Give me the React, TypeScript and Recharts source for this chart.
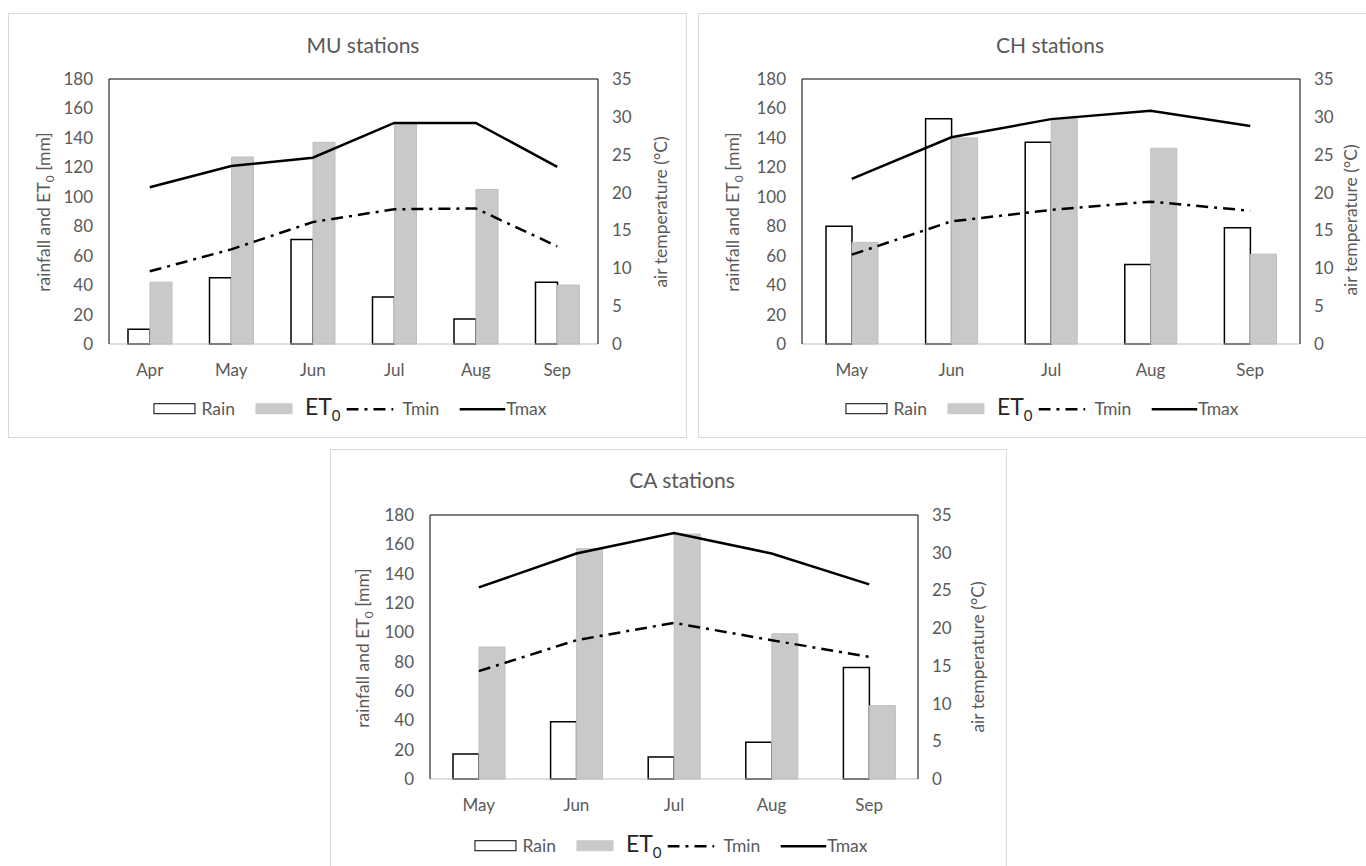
import { ComposedChart, Bar, Line, XAxis, YAxis, ReferenceLine } from 'recharts';

// ---- data ----
const MU_MONTHS = ['Apr', 'May', 'Jun', 'Jul', 'Aug', 'Sep'];
const MU_RAIN = [10, 45, 71, 32, 17, 42];
const MU_ET0 = [42, 127, 137, 150, 105, 40];
const MU_TMIN = [9.6, 12.5, 16.1, 17.8, 17.9, 12.9];
const MU_TMAX = [20.7, 23.5, 24.6, 29.2, 29.2, 23.4];

const CH_MONTHS = ['May', 'Jun', 'Jul', 'Aug', 'Sep'];
const CH_RAIN = [80, 153, 137, 54, 79];
const CH_ET0 = [69, 140, 153, 133, 61];
const CH_TMIN = [11.8, 16.2, 17.7, 18.8, 17.6];
const CH_TMAX = [21.8, 27.3, 29.7, 30.8, 28.8];

const CA_MONTHS = ['May', 'Jun', 'Jul', 'Aug', 'Sep'];
const CA_RAIN = [17, 39, 15, 25, 76];
const CA_ET0 = [90, 157, 167, 99, 50];
const CA_TMIN = [14.3, 18.4, 20.7, 18.4, 16.2];
const CA_TMAX = [25.4, 29.9, 32.6, 29.9, 25.8];

const MM_TICKS = [0, 20, 40, 60, 80, 100, 120, 140, 160, 180];
const TEMP_TICKS = [0, 5, 10, 15, 20, 25, 30, 35];

const TEXT = '#595959';
const FONT = 'Lato, "Open Sans", sans-serif';
const TMIN_DASH = '12 6 3 6';

type PanelProps = {
  title: string;
  months: string[];
  rain: number[];
  et0: number[];
  tmin: number[];
  tmax: number[];
  box: { left: number; top: number; width: number; height: number };
  margin: { top: number; right: number; bottom: number; left: number };
  barSize: number;
  titleX: number;
  titleY: number;
  legendX: number;
  legendY: number;
  leftLabel: { x: number; y: number };
  rightLabel: { x: number; y: number };
};

function Legend({ x, y }: { x: number; y: number }) {
  return (
    <div
      style={{
        position: 'absolute', left: x, top: y, transform: 'translate(-50%, -50%)',
        display: 'flex', alignItems: 'center', whiteSpace: 'nowrap', fontSize: 17.5, color: TEXT,
      }}
    >
      <span style={{ width: 40, height: 9, border: '1.5px solid #000', background: '#fff', display: 'inline-block' }} />
      <span style={{ marginLeft: 6 }}>Rain</span>
      <span style={{ width: 37, height: 11, background: '#c9c9c9', display: 'inline-block', marginLeft: 20 }} />
      <span style={{ marginLeft: 13, fontSize: 23, color: '#262626', lineHeight: 1 }}>
        ET<sub style={{ fontSize: 15 }}>0</sub>
      </span>
      <svg width={47} height={10} style={{ marginLeft: 6 }}>
        <line x1={0} y1={5} x2={47} y2={5} stroke="#000" strokeWidth={2.5} strokeDasharray={TMIN_DASH} />
      </svg>
      <span style={{ marginLeft: 9 }}>Tmin</span>
      <svg width={46} height={10} style={{ marginLeft: 20 }}>
        <line x1={0} y1={5} x2={46} y2={5} stroke="#000" strokeWidth={2.5} />
      </svg>
      <span style={{ marginLeft: 1 }}>Tmax</span>
    </div>
  );
}

function Panel(p: PanelProps) {
  const data = p.months.map((m, i) => ({
    month: m,
    rain: p.rain[i],
    et0: p.et0[i],
    tmin: p.tmin[i],
    tmax: p.tmax[i],
  }));
  const tick = { fill: TEXT, fontSize: 17, fontFamily: FONT };
  return (
    <>
      <div
        style={{
          position: 'absolute', left: p.box.left, top: p.box.top, width: p.box.width - 2,
          height: p.box.height - 2, border: '1px solid #d9d9d9', background: '#fff',
        }}
      />
      <div
        style={{
          position: 'absolute', left: p.titleX, top: p.titleY, transform: 'translate(-50%, -50%)',
          fontSize: 21, color: TEXT, whiteSpace: 'nowrap',
        }}
      >
        {p.title}
      </div>
      <div style={{ position: 'absolute', left: p.box.left, top: p.box.top }}>
        <ComposedChart
          width={p.box.width}
          height={p.box.height}
          data={data}
          margin={p.margin}
          barGap={0}
          barSize={p.barSize}
        >
          <XAxis
            dataKey="month"
            tick={tick}
            tickLine={false}
            tickMargin={14}
            axisLine={{ stroke: '#bfbfbf' }}
            height={40}
          />
          <YAxis
            yAxisId="left"
            domain={[0, 180]}
            ticks={MM_TICKS}
            interval={0}
            tick={tick}
            tickLine={false}
            tickMargin={10}
            axisLine={{ stroke: '#000' }}
            width={50}
          />
          <YAxis
            yAxisId="right"
            orientation="right"
            domain={[0, 35]}
            ticks={TEMP_TICKS}
            interval={0}
            tick={{ ...tick, textAnchor: 'start' }}
            tickLine={false}
            tickMargin={8}
            axisLine={{ stroke: '#000' }}
            width={50}
          />
          <ReferenceLine yAxisId="left" y={180} stroke="#000" strokeWidth={1} />
          <Bar yAxisId="left" dataKey="rain" fill="#fff" stroke="#000" strokeWidth={1.5} isAnimationActive={false} />
          <Bar yAxisId="left" dataKey="et0" fill="#c9c9c9" stroke="#bfbfbf" strokeWidth={1} isAnimationActive={false} />
          <Line yAxisId="right" dataKey="tmin" type="linear" stroke="#000" strokeWidth={2.5} strokeDasharray={TMIN_DASH} dot={false} isAnimationActive={false} />
          <Line yAxisId="right" dataKey="tmax" type="linear" stroke="#000" strokeWidth={2.5} dot={false} isAnimationActive={false} />
        </ComposedChart>
      </div>
      <div
        style={{
          position: 'absolute', left: p.leftLabel.x, top: p.leftLabel.y,
          transform: 'translate(-50%, -50%) rotate(-90deg)', fontSize: 17.5, color: TEXT, whiteSpace: 'nowrap',
        }}
      >
        rainfall and ET<sub style={{ fontSize: 12 }}>0</sub> [mm]
      </div>
      <div
        style={{
          position: 'absolute', left: p.rightLabel.x, top: p.rightLabel.y,
          transform: 'translate(-50%, -50%) rotate(-90deg)', fontSize: 17.5, color: TEXT, whiteSpace: 'nowrap',
        }}
      >
        air temperature (°C)
      </div>
      <Legend x={p.legendX} y={p.legendY} />
    </>
  );
}

export default function App() {
  return (
    <div
      style={{
        position: 'fixed', left: 0, top: 0, width: 1366, height: 866, overflow: 'hidden',
        background: '#fff', fontFamily: FONT,
      }}
    >
      <Panel
        title="MU stations"
        months={MU_MONTHS}
        rain={MU_RAIN}
        et0={MU_ET0}
        tmin={MU_TMIN}
        tmax={MU_TMAX}
        box={{ left: 8, top: 13, width: 679, height: 425 }}
        margin={{ top: 66, right: 39, bottom: 54, left: 51 }}
        barSize={22}
        titleX={363}
        titleY={44}
        legendX={350}
        legendY={409}
        leftLabel={{ x: 45, y: 212 }}
        rightLabel={{ x: 660, y: 212 }}
      />
      <Panel
        title="CH stations"
        months={CH_MONTHS}
        rain={CH_RAIN}
        et0={CH_ET0}
        tmin={CH_TMIN}
        tmax={CH_TMAX}
        box={{ left: 698, top: 13, width: 679, height: 425 }}
        margin={{ top: 66, right: 27, bottom: 54, left: 54 }}
        barSize={26}
        titleX={1050}
        titleY={44}
        legendX={1042}
        legendY={409}
        leftLabel={{ x: 734, y: 212 }}
        rightLabel={{ x: 1350, y: 220 }}
      />
      <Panel
        title="CA stations"
        months={CA_MONTHS}
        rain={CA_RAIN}
        et0={CA_ET0}
        tmin={CA_TMIN}
        tmax={CA_TMAX}
        box={{ left: 330, top: 449, width: 677, height: 425 }}
        margin={{ top: 66, right: 39, bottom: 55, left: 50 }}
        barSize={26}
        titleX={682}
        titleY={479}
        legendX={671}
        legendY={846}
        leftLabel={{ x: 364, y: 648 }}
        rightLabel={{ x: 977, y: 657 }}
      />
    </div>
  );
}
